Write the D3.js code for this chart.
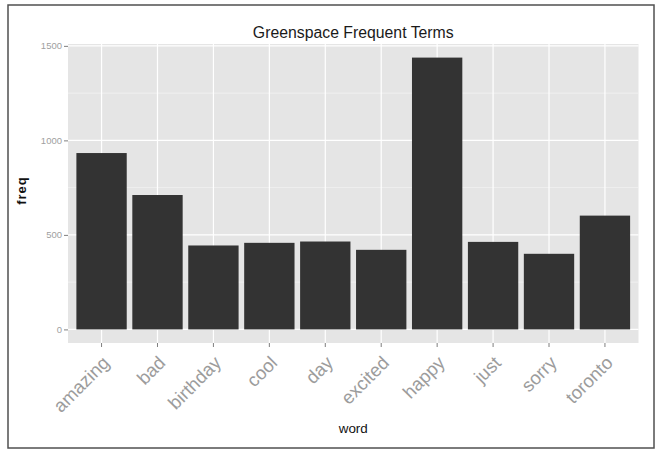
<!DOCTYPE html>
<html><head><meta charset="utf-8">
<script src="https://cdn.jsdelivr.net/npm/d3@7"></script>
<style>body{margin:0;background:#fff}svg{display:block}</style>
</head><body>
<script>
const words = ["amazing","bad","birthday","cool","day","excited","happy","just","sorry","toronto"];
const freq = [933, 711, 444, 458, 465, 421, 1438, 463, 400, 602];
const yTicks = [0, 500, 1000, 1500];
const yMinor = [250, 750, 1250];

const W = 656, H = 453;
const svg = d3.select("body").append("svg").attr("width", W).attr("height", H);
svg.append("rect").attr("width", W).attr("height", H).attr("fill", "#fff");
svg.append("rect").attr("x", 8).attr("y", 5).attr("width", 646).attr("height", 443)
  .attr("fill", "none").attr("stroke", "#505050").attr("stroke-width", 1.5);

const px0 = 68, px1 = 638.5, py0 = 44, py1 = 343;
const ymax = d3.max(freq);
const x = d3.scaleBand().domain(words).range([px0, px1]).paddingInner(0.1).paddingOuter(0.15);
const y = d3.scaleLinear().domain([-0.05 * ymax, 1.05 * ymax]).range([py1, py0]);

const font = "'Liberation Sans', Arial, sans-serif";
svg.append("rect").attr("x", px0).attr("y", py0).attr("width", px1 - px0).attr("height", py1 - py0).attr("fill", "#E5E5E5");

const g = svg.append("g");
g.selectAll(".minor").data(yMinor).join("line")
  .attr("x1", px0).attr("x2", px1).attr("y1", d => y(d)).attr("y2", d => y(d))
  .attr("stroke", "#F2F2F2").attr("stroke-width", 0.8);
g.selectAll(".major").data(yTicks).join("line")
  .attr("x1", px0).attr("x2", px1).attr("y1", d => y(d)).attr("y2", d => y(d))
  .attr("stroke", "#fff").attr("stroke-width", 1.2);
g.selectAll(".vx").data(words).join("line")
  .attr("x1", d => x(d) + x.bandwidth() / 2).attr("x2", d => x(d) + x.bandwidth() / 2)
  .attr("y1", py0).attr("y2", py1).attr("stroke", "#fff").attr("stroke-width", 1.2);

svg.selectAll(".bar").data(words).join("rect")
  .attr("x", d => x(d)).attr("width", x.bandwidth())
  .attr("y", (d, i) => y(freq[i])).attr("height", (d, i) => y(0) - y(freq[i]))
  .attr("fill", "#333333");

// Y axis
const yAxis = d3.axisLeft(y).tickValues(yTicks).tickSize(4).tickPadding(2).tickFormat(d3.format("d"));
const ya = svg.append("g").attr("transform", `translate(${px0},0)`).call(yAxis);
ya.select(".domain").remove();
ya.selectAll(".tick line").attr("stroke", "#7F7F7F");
ya.selectAll(".tick text").attr("fill", "#a0a0a0").attr("font-family", font).attr("font-size", 9.5);

// X axis
const xAxis = d3.axisBottom(x).tickSize(4).tickPadding(3);
const xa = svg.append("g").attr("transform", `translate(0,${py1})`).call(xAxis);
xa.select(".domain").remove();
xa.selectAll(".tick line").attr("stroke", "#7F7F7F");
xa.selectAll(".tick text").attr("fill", "#9c9c9c").attr("font-family", font).attr("font-size", 18.5)
  .attr("text-anchor", "end").attr("dy", null).attr("y", 0).attr("x", 0)
  .attr("transform", "translate(9,21) rotate(-45)");

// Titles
svg.append("text").attr("x", (px0 + px1) / 2).attr("y", 38).attr("text-anchor", "middle")
  .attr("font-family", font).attr("font-size", 15.8).attr("fill", "#1a1a1a").text("Greenspace Frequent Terms");
svg.append("text").attr("transform", `translate(25.5,190.5) rotate(-90)`).attr("text-anchor", "middle")
  .attr("font-family", font).attr("font-size", 13).attr("font-weight", "bold").attr("letter-spacing", 1)
  .attr("fill", "#111").text("freq");
svg.append("text").attr("x", (px0 + px1) / 2).attr("y", 433).attr("text-anchor", "middle")
  .attr("font-family", font).attr("font-size", 13.4).attr("fill", "#111").text("word");
</script>
</body></html>
